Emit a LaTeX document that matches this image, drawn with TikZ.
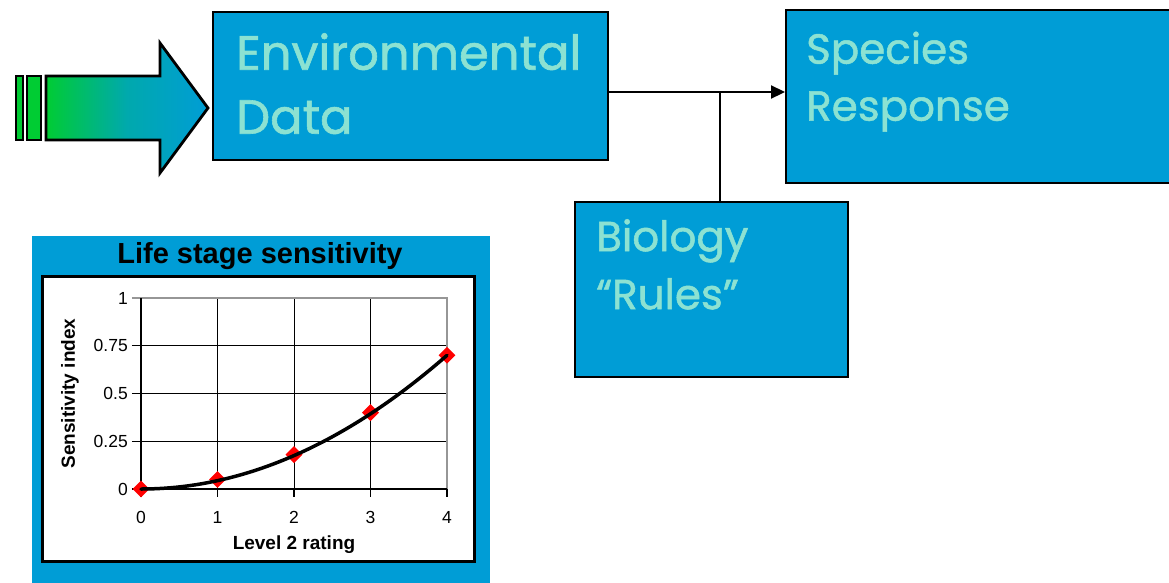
\documentclass[tikz,border=0pt]{standalone}
\usepackage{fontspec}
\setmainfont{Liberation Sans}
\newfontfamily\boxfont[FakeBold=1.2]{Poppins}
\usetikzlibrary{shapes.geometric,arrows.meta}
\definecolor{boxblue}{RGB}{0,157,214}
\definecolor{boxtext}{RGB}{140,226,210}
\definecolor{arrgreen}{RGB}{0,204,51}
\definecolor{gridgray}{RGB}{150,150,150}
\tikzset{
  box/.style={draw=black, line width=2pt, fill=boxblue, rectangle, inner sep=0pt},
  boxlabel/.style={anchor=north west, align=left, text=boxtext, inner sep=0pt},
  conn/.style={draw=black, line width=2.2pt},
  ticklbl/.style={font=\fontsize{17.5}{19}\selectfont, inner sep=0pt},
  axlbl/.style={font=\bfseries\fontsize{19}{21}\selectfont, inner sep=0pt},
  marker/.style={diamond, fill=red, minimum size=17pt, inner sep=0pt},
}
\begin{document}
\begin{tikzpicture}[x=1pt,y=-1pt]
\useasboundingbox[fill=white] (0,0) rectangle (1169,582);
% left arrow
\path[draw=black, line width=2.8pt, fill=arrgreen] (16,76) rectangle (23,140);
\path[draw=black, line width=2.8pt, fill=arrgreen] (27,76) rectangle (41,140);
\path[draw=black, line width=2.8pt, left color=arrgreen, right color=boxblue, middle color=boxblue!75!arrgreen]
  (46,76) -- (160,76) -- (160,43) -- (208,108) -- (160,173) -- (160,140) -- (46,140) -- cycle;
% boxes
\node[box, minimum width=395pt, minimum height=148pt] (env) at (410.5,86) {};
\node[box, minimum width=390pt, minimum height=173pt] (spec) at (981,96.5) {};
\node[box, minimum width=273pt, minimum height=175pt] (bio) at (711.5,289.5) {};
\node[boxlabel, font=\boxfont\fontsize{48}{64}\selectfont] (envt) at (236,33) {Environmental\\Data};
\node[boxlabel, font=\boxfont\fontsize{42}{57}\selectfont] (spect) at (806,31.5) {Species\\Response};
\node[boxlabel, font=\boxfont\fontsize{42}{58}\selectfont] (biot) at (596,219) {Biology\\\char"201C Rules\char"201D};
% connectors
\coordinate (j) at (720,92);
\draw[conn, -{Triangle[length=14pt,width=13pt]}] (env.east |- j) -- (spec.west |- j);
\draw[conn] (j) -- (bio.north -| j);
% chart panel
\node[fill=boxblue, rectangle, minimum width=458pt, minimum height=350pt, inner sep=0pt] (panel) at (261,411) {};
\node[font=\bfseries\fontsize{29}{32}\selectfont, inner sep=0pt, anchor=base] (title) at (260,263) {Life stage sensitivity};
\node[draw=black, line width=3pt, fill=white, minimum width=432pt, minimum height=285pt, inner sep=0pt] (plot) at (258,418.5) {};
\begin{scope}[shift={(141pt,-489pt)}, x=76.5pt, y=191pt]
  \foreach \gx in {1,2,3} \draw[black, line width=0.6pt] (\gx,0) -- (\gx,1);
  \foreach \gy in {0.25,0.5,0.75} \draw[black, line width=0.6pt] (-0.12,\gy) -- (4,\gy);
  \draw[gridgray, line width=1.2pt] (0,1) -- (4,1) -- (4,0);
  \draw[gridgray, line width=1.2pt] (-0.12,1) -- (0,1);
  \draw[black, line width=1.2pt] (0,1) -- (0,0) -- (4,0);
  \draw[black, line width=1.2pt] (-0.12,0) -- (0,0);
  \foreach \gx in {0,1,2,3,4} \draw[black, line width=1.2pt] (\gx,0) -- (\gx,-0.04);
  \node[ticklbl, anchor=east] (y0) at (-0.17,0) {0};
  \node[ticklbl, anchor=east] (y1) at (-0.17,0.25) {0.25};
  \node[ticklbl, anchor=east] (y2) at (-0.17,0.5) {0.5};
  \node[ticklbl, anchor=east] (y3) at (-0.17,0.75) {0.75};
  \node[ticklbl, anchor=east] (y4) at (-0.17,1) {1};
  \foreach \gx in {0,1,2,3,4} \node[ticklbl] (x\gx) at (\gx,-0.15) {\gx};
  \node[axlbl] (xlab) at (2,-0.29) {Level 2 rating};
  \node[axlbl, rotate=90] (ylab) at (-0.93,0.5) {Sensitivity index};
  \node[marker] (p0) at (0,0) {};
  \node[marker] (p1) at (1,0.05) {};
  \node[marker] (p2) at (2,0.18) {};
  \node[marker] (p3) at (3,0.40) {};
  \node[marker] (p4) at (4,0.70) {};
  \draw[black, line width=3.5pt, line cap=round, domain=0:4, samples=40, smooth] plot (\x,{0.04375*\x*\x});
\end{scope}
\end{tikzpicture}
\end{document}
